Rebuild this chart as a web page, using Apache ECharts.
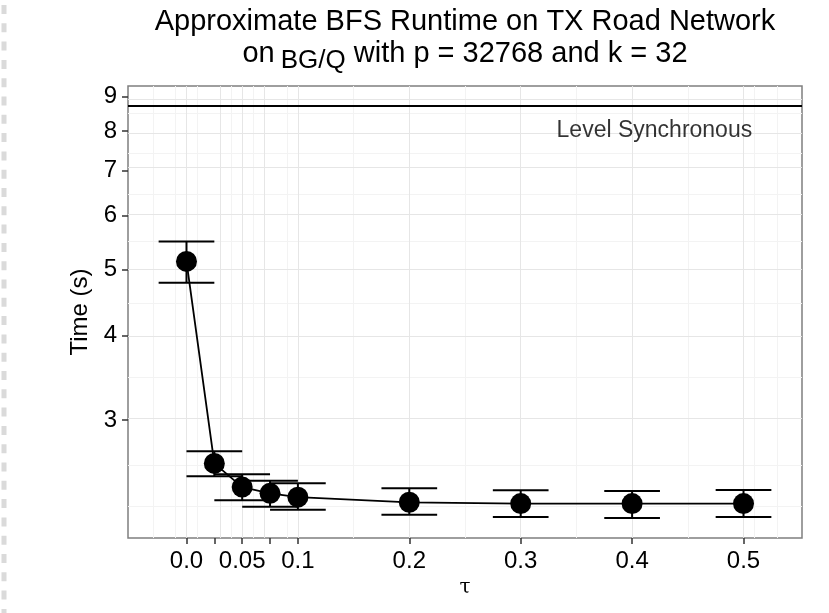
<!DOCTYPE html>
<html>
<head>
<meta charset="utf-8">
<title>Approximate BFS Runtime</title>
<script src="https://cdn.jsdelivr.net/npm/echarts@6.0.0/dist/echarts.min.js"></script>
<style>
  html, body { margin: 0; padding: 0; background: #fff; }
  #chart { width: 829px; height: 613px; }
</style>
</head>
<body>
<div id="chart"></div>
<script>
// tau values and measured runtimes (seconds)
var tau = [0, 0.025, 0.05, 0.075, 0.1, 0.2, 0.3, 0.4, 0.5];
var timeMean = [5.14, 2.59, 2.39, 2.34, 2.31, 2.27, 2.26, 2.26, 2.26];
var timeLow = [4.78, 2.48, 2.285, 2.236, 2.213, 2.176, 2.159, 2.152, 2.159];
var timeHigh = [5.50, 2.70, 2.496, 2.442, 2.421, 2.380, 2.364, 2.359, 2.366];
var levelSyncTime = 8.72;

// axis ticks / labels
var xTickValues = [0, 0.025, 0.05, 0.075, 0.1, 0.2, 0.3, 0.4, 0.5];
var xLabelValues = [0, 0.05, 0.1, 0.2, 0.3, 0.4, 0.5];
var xLabelTexts = ['0.0', '0.05', '0.1', '0.2', '0.3', '0.4', '0.5'];
var yTickValues = [3, 4, 5, 6, 7, 8, 9];
var xMinorGrid = [-0.025, -0.0125, 0.0125, 0.0375, 0.0625, 0.0875, 0.15, 0.25, 0.35, 0.45, 0.5125, 0.525];
var yMinorGrid = [2.25, 2.598, 3.464, 4.472, 5.477, 6.481, 7.483, 8.485];

var capHalf = 0.025;
var lg = function (v) { return Math.log10(v); };
var fontFam = "'Liberation Sans', Arial, sans-serif";

var chart = echarts.init(document.getElementById('chart'));

var gridLines = [];
xMinorGrid.forEach(function (v) {
  gridLines.push({xAxis: v, lineStyle: {color: '#f3f3f3', width: 1, type: 'solid'}});
});
yMinorGrid.forEach(function (v) {
  gridLines.push({yAxis: lg(v), lineStyle: {color: '#f3f3f3', width: 1, type: 'solid'}});
});
xTickValues.forEach(function (v) {
  gridLines.push({xAxis: v, lineStyle: {color: '#e6e6e6', width: 1, type: 'solid'}});
});
yTickValues.forEach(function (v) {
  gridLines.push({yAxis: lg(v), lineStyle: {color: '#e6e6e6', width: 1, type: 'solid'}});
});

chart.setOption({
  backgroundColor: '#fff',
  animation: false,
  textStyle: {fontFamily: fontFam},
  grid: {
    left: 128, right: 27, top: 86, bottom: 75,
    show: true, borderColor: '#7f7f7f', borderWidth: 1.5, backgroundColor: '#fff'
  },
  graphic: [
    {
      type: 'line', silent: true,
      shape: {x1: 4, y1: 5, x2: 4, y2: 613},
      style: {stroke: '#dadada', lineWidth: 5, lineDash: [9, 9.3]}
    },
    {
      type: 'text', x: 465, y: 22,
      style: {
        text: 'Approximate BFS Runtime on TX Road Network',
        font: '29px ' + fontFam, fill: '#000', align: 'center', verticalAlign: 'middle'
      }
    },
    {
      type: 'text', x: 465, y: 54,
      style: {
        text: '{a|on}{b|BG/Q}{a| with p = 32768 and k = 32}',
        align: 'center', verticalAlign: 'middle',
        rich: {
          a: {fontSize: 29, fontFamily: fontFam, color: '#000', lineHeight: 40, verticalAlign: 'middle'},
          b: {fontSize: 26, fontFamily: fontFam, color: '#000', lineHeight: 26, verticalAlign: 'bottom', padding: [0, 0, 0, 6]}
        }
      }
    }
  ],
  xAxis: {
    type: 'value',
    min: -0.0525,
    max: 0.5525,
    name: 'τ',
    nameLocation: 'middle',
    nameGap: 34,
    nameTextStyle: {fontFamily: "'DejaVu Serif', serif", fontSize: 20, color: '#000'},
    axisLine: {show: false, onZero: false},
    splitLine: {show: false},
    axisTick: {
      show: true, length: 6, customValues: xTickValues,
      lineStyle: {color: '#333', width: 1.5}
    },
    axisLabel: {
      customValues: xLabelValues,
      margin: 11,
      fontSize: 24,
      color: '#000',
      formatter: function (v) {
        var i = xLabelValues.indexOf(v);
        return i >= 0 ? xLabelTexts[i] : '';
      }
    }
  },
  yAxis: {
    type: 'value',
    min: lg(2.011),
    max: lg(9.32),
    name: 'Time (s)',
    nameLocation: 'middle',
    nameGap: 33,
    nameTextStyle: {fontSize: 24, color: '#000'},
    axisLine: {show: false, onZero: false},
    splitLine: {show: false},
    axisTick: {
      show: true, length: 6, customValues: yTickValues.map(lg),
      lineStyle: {color: '#333', width: 1.5}
    },
    axisLabel: {
      customValues: yTickValues.map(lg),
      margin: 11,
      fontSize: 24,
      color: '#000',
      formatter: function (v) { return String(Math.round(Math.pow(10, v))); }
    }
  },
  series: [
    {
      name: 'annotation',
      type: 'scatter',
      z: 1,
      silent: true,
      symbolSize: 0,
      data: [[0.42, lg(8)]],
      label: {
        show: true, position: 'inside', formatter: 'Level Synchronous',
        fontSize: 23, color: '#000'
      },
      markLine: {
        silent: true,
        z: 0,
        symbol: ['none', 'none'],
        label: {show: false},
        data: gridLines
      }
    },
    {
      name: 'Level Synchronous',
      type: 'line',
      z: 3,
      data: [],
      markLine: {
        silent: true,
        z: 3,
        symbol: ['none', 'none'],
        label: {show: false},
        lineStyle: {color: '#000', width: 2, type: 'solid'},
        data: [{yAxis: lg(levelSyncTime)}]
      }
    },
    {
      name: 'errorbars',
      type: 'custom',
      z: 4,
      silent: true,
      data: tau.map(function (t, i) { return [t, lg(timeLow[i]), lg(timeHigh[i])]; }),
      renderItem: function (params, api) {
        var x = api.value(0), lo = api.value(1), hi = api.value(2);
        var top = api.coord([x, hi]), bot = api.coord([x, lo]);
        var tl = api.coord([x - capHalf, hi]), tr = api.coord([x + capHalf, hi]);
        var bl = api.coord([x - capHalf, lo]), br = api.coord([x + capHalf, lo]);
        var st = {stroke: '#000', lineWidth: 2};
        return {
          type: 'group',
          children: [
            {type: 'line', shape: {x1: top[0], y1: top[1], x2: bot[0], y2: bot[1]}, style: st},
            {type: 'line', shape: {x1: tl[0], y1: tl[1], x2: tr[0], y2: tr[1]}, style: st},
            {type: 'line', shape: {x1: bl[0], y1: bl[1], x2: br[0], y2: br[1]}, style: st}
          ]
        };
      }
    },
    {
      name: 'Approximate BFS',
      type: 'line',
      z: 5,
      symbol: 'circle',
      symbolSize: 21,
      itemStyle: {color: '#000'},
      lineStyle: {color: '#000', width: 1.8},
      data: tau.map(function (t, i) { return [t, lg(timeMean[i])]; })
    }
  ]
});
</script>
</body>
</html>
